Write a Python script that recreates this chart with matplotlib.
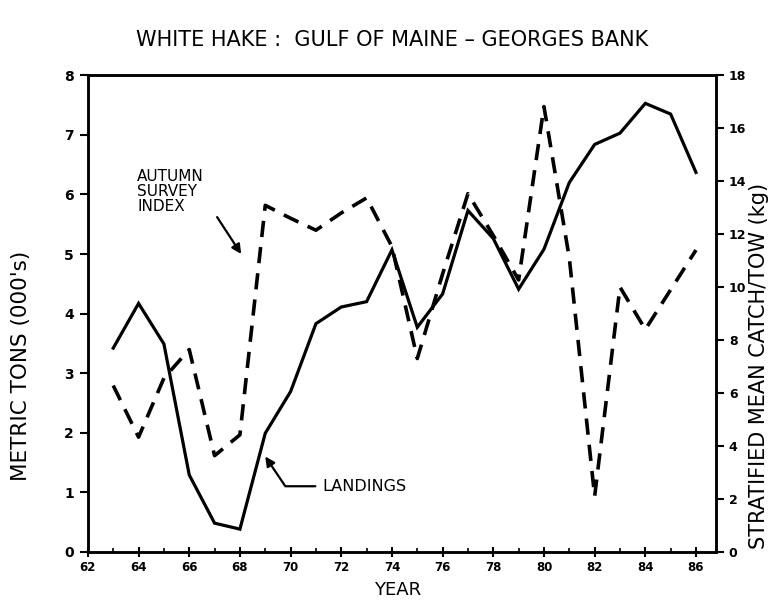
import matplotlib

matplotlib.use("Agg")
import matplotlib.pyplot as plt
from matplotlib.ticker import MultipleLocator

# values (years 1963-1986)
years = list(range(63, 87))
landings = [3.42, 4.17, 3.49, 1.29, 0.48, 0.38, 1.99, 2.69, 3.83, 4.11, 4.20, 5.07,
            3.77, 4.33, 5.73, 5.26, 4.41, 5.08, 6.20, 6.84, 7.03, 7.53, 7.35, 6.37]
survey = [6.28, 4.33, 6.56, 7.64, 3.63, 4.42, 13.09, 12.6, 12.15, 12.8, 13.37, 11.53,
          7.3, 10.5, 13.53, 11.95, 10.27, 16.82, 11.1, 2.09, 10.0, 8.4, 9.9, 11.4]
xticks = list(range(62, 87, 2))

INK = "black"
plt.rcParams.update({
    "font.family": ["DejaVu Sans"],
    "axes.linewidth": 1.8,
    "xtick.major.width": 1.5, "ytick.major.width": 1.5,
    "xtick.minor.width": 1.2,
})

fig = plt.figure(figsize=(7.71, 6.03), dpi=100)
ax = fig.add_axes([0.114, 0.085, 0.815, 0.79])
ax2 = ax.twinx()

ax.plot(years, landings, color=INK, lw=2.3, solid_joinstyle="miter", zorder=3)
ax2.plot(years, survey, color=INK, lw=2.6, dashes=(4.5, 2.8), zorder=3)

ax.set_xlim(62, 86.8)
ax.set_ylim(0, 8)
ax2.set_ylim(0, 18)
ax.set_xticks(xticks)
ax.set_xticklabels([str(t) for t in xticks])
ax.xaxis.set_minor_locator(MultipleLocator(1))
ax.yaxis.set_major_locator(MultipleLocator(1))
ax2.yaxis.set_major_locator(MultipleLocator(2))

ax.tick_params(axis="x", direction="inout", length=7, labelsize=8.5, pad=3)
ax.tick_params(axis="x", which="minor", direction="in", length=3)
ax.tick_params(axis="y", direction="out", length=6, labelsize=10, pad=4)
ax2.tick_params(axis="y", direction="out", length=6, labelsize=9, pad=3)
for lab in ax.get_xticklabels() + ax.get_yticklabels() + ax2.get_yticklabels():
    lab.set_fontweight("bold")

ax.set_xlabel("YEAR", fontsize=13)
ax.xaxis.set_label_coords(0.493, -0.062)
ax.set_ylabel("METRIC TONS (000's)", fontsize=15.5)
ax.yaxis.set_label_coords(-0.091, 0.39)
ax2.set_ylabel("STRATIFIED MEAN CATCH/TOW (kg)", fontsize=15)
ax2.yaxis.set_label_coords(1.052, 0.39)
fig.text(0.508, 0.933, "WHITE HAKE :  GULF OF MAINE \u2013 GEORGES BANK",
         ha="center", va="center", fontsize=15)

# labels with pointers
ax.text(63.94, 6.42, "AUTUMN\nSURVEY\nINDEX", fontsize=11, va="top", ha="left",
        linespacing=0.98)
ax.annotate("", xy=(68.05, 5.0), xytext=(67.1, 5.62),
            arrowprops=dict(arrowstyle="-|>", color=INK, lw=1.6,
                            mutation_scale=14, shrinkA=0, shrinkB=0))
ax.annotate("LANDINGS", xy=(69.0, 1.6), xytext=(71.25, 1.1), fontsize=11.5,
            va="center", ha="left",
            arrowprops=dict(arrowstyle="-|>", color=INK, lw=1.6,
                            mutation_scale=14, shrinkA=3, shrinkB=0,
                            connectionstyle="angle,angleA=0,angleB=-56,rad=0"))

fig.savefig("out.png", dpi=100, facecolor="white")
